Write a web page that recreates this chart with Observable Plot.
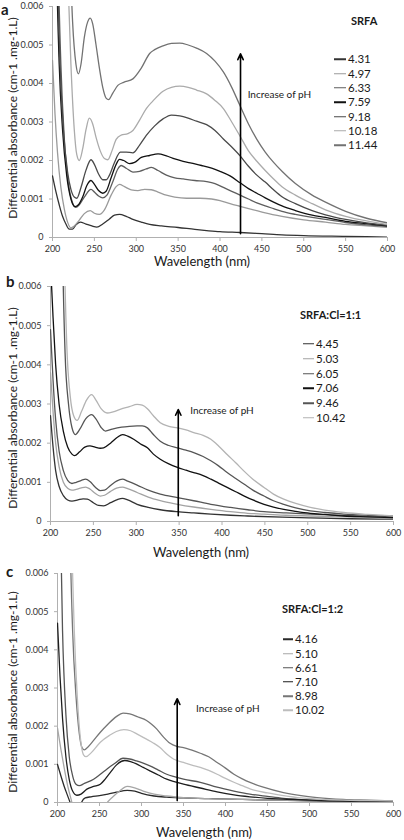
<!DOCTYPE html>
<html><head><meta charset="utf-8">
<script src="https://cdn.jsdelivr.net/npm/d3@7"></script>
<script src="https://cdn.jsdelivr.net/npm/@observablehq/plot@0.6"></script>
<style>
body{margin:0;background:#fff;font-family:Lato,"Open Sans",sans-serif;}
#wrap{position:relative;width:404px;height:840px;overflow:hidden;background:#fff;}
.panel{position:absolute;left:0;width:404px;}
.panel svg{display:block;}
.t{position:absolute;white-space:nowrap;color:#1a1a1a;line-height:1;}
.letter{font-weight:bold;font-size:15px;line-height:1.25;}
.ytitle{font-size:12px;transform:translate(-50%,-50%) rotate(-90deg);}
.xtitle{font-size:13px;transform:translate(-50%,-50%);}
.ltitle{font-weight:bold;font-size:11px;transform:translateY(-50%);}
.lrow{position:absolute;font-size:11.5px;transform:translateY(-50%);display:flex;align-items:center;line-height:1;color:#1a1a1a;}
.lrow i{display:inline-block;height:1.4px;margin-right:2px;}
</style>
</head><body>
<div id="wrap"></div>
<script>
// ---------- shared axis ticks ----------
const xTicks = [200, 250, 300, 350, 400, 450, 500, 550, 600];
const yTicks = [0, 1, 2, 3, 4, 5, 6];            // in units of 0.001
const yTickLabels = ["0", "0.001", "0.002", "0.003", "0.004", "0.005", "0.006"];
const xTitle = "Wavelength (nm)";
const yTitle = "Differential absorbance (cm-1 .mg-1.L)";
const arrowText = "Increase of pH";

// ---------- panel a : SRFA (values ×0.001) ----------
const aTitle = "SRFA";
const aPH = ["4.31", "4.97", "6.33", "7.59", "9.18", "10.18", "11.44"];
const aColors = ["#333333", "#9a9a9a", "#5e5e5e", "#111111", "#4a4a4a", "#ababab", "#727272"];
const a_431 = [[200,1.6],[204,1.2],[208,0.85],[212,0.55],[216,0.35],[220,0.22],[224,0.22],[228,0.33],[233,0.4],[240,0.35],[247,0.3],[253,0.27],[260,0.35],[268,0.48],[274,0.58],[280,0.6],[288,0.55],[296,0.47],[306,0.4],[316,0.34],[330,0.3],[350,0.26],[370,0.21],[384,0.18],[400,0.15],[424,0.13],[450,0.1],[474,0.07],[500,0.05],[550,0.03],[600,0.01]];
const a_497 = [[200,4.6],[203,3.2],[206,2.2],[210,1.3],[214,0.75],[218,0.4],[222,0.25],[226,0.3],[232,0.45],[238,0.62],[245,0.7],[250,0.63],[256,0.6],[262,0.72],[270,1.1],[276,1.32],[280,1.38],[286,1.32],[294,1.24],[302,1.22],[310,1.25],[318,1.24],[326,1.18],[336,1.1],[346,1.05],[360,1.02],[376,1.02],[390,1.0],[400,0.96],[412,0.88],[424,0.81],[440,0.72],[454,0.64],[474,0.55],[500,0.46],[526,0.4],[550,0.34],[575,0.3],[600,0.26]];
const a_633 = [[204,12],[207,7],[210,4.5],[214,2.6],[219,1.4],[224,0.9],[228,0.78],[232,0.85],[238,1.05],[246,1.25],[250,1.18],[255,1.08],[260,1.03],[265,1.1],[272,1.45],[278,1.78],[282,1.87],[288,1.8],[296,1.7],[304,1.72],[312,1.78],[318,1.82],[326,1.74],[336,1.62],[346,1.55],[356,1.52],[370,1.48],[384,1.45],[394,1.4],[404,1.3],[414,1.2],[424,1.1],[434,1.0],[444,0.9],[454,0.82],[464,0.75],[474,0.68],[490,0.6],[510,0.52],[526,0.47],[550,0.39],[575,0.33],[600,0.29]];
const a_759 = [[202,12],[205,7],[208,4.5],[212,2.8],[217,1.6],[222,1.0],[227,0.8],[231,0.85],[236,1.05],[241,1.35],[246,1.48],[250,1.38],[255,1.22],[260,1.15],[264,1.2],[270,1.55],[276,1.9],[280,2.03],[285,2.0],[292,1.92],[298,1.95],[306,2.08],[316,2.13],[326,2.17],[336,2.12],[346,2.04],[356,1.98],[366,1.93],[378,1.87],[390,1.8],[400,1.72],[412,1.6],[424,1.42],[434,1.27],[444,1.15],[454,1.03],[464,0.92],[474,0.82],[490,0.7],[510,0.58],[526,0.52],[550,0.42],[575,0.36],[600,0.3]];
const a_918 = [[203,12],[206,7],[209,4.5],[213,2.8],[218,1.7],[222,1.25],[226,1.05],[229,1.02],[234,1.3],[240,1.75],[246,2.02],[250,1.9],[255,1.65],[260,1.5],[264,1.5],[268,1.62],[274,1.95],[281,2.22],[288,2.22],[296,2.2],[304,2.4],[312,2.65],[322,2.9],[332,3.08],[342,3.18],[352,3.16],[362,3.1],[372,3.02],[384,2.93],[394,2.78],[404,2.56],[414,2.35],[424,2.12],[434,1.85],[444,1.62],[454,1.44],[464,1.24],[474,1.06],[490,0.88],[510,0.7],[526,0.59],[550,0.47],[575,0.38],[600,0.32]];
const a_1018 = [[212,12],[218,7],[222,4.5],[226,2.8],[229,2.15],[232,2.0],[236,2.3],[240,2.8],[244,3.1],[248,2.95],[252,2.6],[257,2.25],[262,2.05],[266,2.02],[271,2.25],[276,2.55],[282,2.66],[290,2.7],[296,2.78],[304,3.05],[312,3.35],[320,3.55],[332,3.8],[342,3.9],[352,3.93],[362,3.9],[372,3.83],[384,3.73],[394,3.56],[404,3.35],[414,3.0],[424,2.63],[434,2.25],[444,1.98],[454,1.74],[464,1.52],[474,1.32],[490,1.1],[510,0.88],[526,0.72],[550,0.55],[575,0.43],[600,0.34]];
const a_1144 = [[215,12],[220,8],[224,5.6],[228,4.5],[231,4.25],[234,4.5],[238,5.2],[242,5.6],[245,5.7],[248,5.55],[252,5.0],[256,4.4],[260,3.9],[264,3.62],[267,3.58],[272,3.75],[278,3.95],[285,4.03],[296,4.12],[306,4.4],[316,4.78],[322,4.88],[332,4.98],[342,5.04],[352,5.05],[362,5.0],[372,4.92],[384,4.78],[394,4.58],[404,4.3],[414,3.9],[424,3.42],[434,2.95],[444,2.55],[454,2.22],[464,1.95],[474,1.72],[490,1.4],[510,1.1],[526,0.92],[550,0.68],[575,0.5],[600,0.38]];
const aArrow = [{x: 424.5, y1: 0.1, y2: 4.77}];
const aLabel = [{x: 433, y: 3.71}];

// ---------- panel b : SRFA:Cl=1:1 ----------
const bTitle = "SRFA:Cl=1:1";
const bPH = ["4.45", "5.03", "6.05", "7.06", "9.46", "10.42"];
const bColors = ["#333333", "#a3a3a3", "#555555", "#111111", "#555555", "#b3b3b3"];
const b_445 = [[200,2.7],[203,1.9],[206,1.3],[210,0.9],[215,0.66],[220,0.55],[225,0.52],[232,0.55],[238,0.58],[243,0.57],[250,0.48],[256,0.41],[262,0.4],[270,0.48],[278,0.56],[284,0.59],[290,0.55],[301,0.44],[314,0.36],[328,0.3],[348,0.25],[367,0.22],[387,0.19],[410,0.16],[430,0.14],[470,0.11],[503,0.09],[550,0.07],[600,0.06]];
const b_503 = [[200,3.8],[203,2.8],[206,2.0],[210,1.4],[215,1.0],[220,0.85],[225,0.8],[230,0.82],[236,0.86],[241,0.88],[246,0.83],[252,0.72],[258,0.65],[263,0.67],[270,0.77],[277,0.85],[284,0.88],[290,0.84],[301,0.74],[314,0.62],[328,0.53],[348,0.44],[367,0.37],[387,0.31],[410,0.25],[430,0.21],[449,0.19],[475,0.16],[503,0.14],[550,0.12],[600,0.1]];
const b_605 = [[200,4.9],[203,3.6],[206,2.6],[210,1.8],[215,1.3],[220,1.05],[225,0.97],[230,1.0],[236,1.05],[241,1.08],[246,1.02],[252,0.88],[258,0.79],[263,0.8],[270,0.92],[277,1.03],[284,1.08],[290,1.03],[301,0.93],[314,0.8],[328,0.7],[348,0.61],[367,0.53],[387,0.44],[410,0.36],[430,0.3],[449,0.25],[475,0.22],[503,0.19],[550,0.15],[600,0.12]];
const b_706 = [[200,6.6],[203,5.2],[206,4.0],[210,3.0],[215,2.3],[220,1.9],[225,1.72],[228,1.68],[234,1.78],[240,1.9],[246,1.93],[252,1.9],[258,1.87],[262,1.88],[270,2.0],[278,2.15],[284,2.22],[290,2.18],[297,2.1],[305,1.98],[313,1.88],[320,1.72],[328,1.59],[338,1.47],[348,1.38],[358,1.31],[367,1.25],[378,1.17],[387,1.08],[396,0.98],[406,0.87],[416,0.76],[426,0.65],[436,0.55],[449,0.44],[460,0.37],[472,0.31],[486,0.26],[503,0.21],[520,0.18],[542,0.14],[570,0.12],[600,0.1]];
const b_946 = [[211,12],[214,7],[217,4.3],[221,3.0],[225,2.4],[229,2.22],[234,2.35],[241,2.62],[248,2.73],[253,2.62],[259,2.4],[264,2.31],[272,2.36],[283,2.41],[292,2.43],[301,2.44],[307,2.44],[313,2.39],[320,2.22],[328,2.05],[338,1.94],[348,1.88],[358,1.82],[367,1.76],[378,1.66],[387,1.55],[396,1.42],[406,1.25],[416,1.1],[426,0.95],[436,0.8],[449,0.65],[460,0.53],[472,0.44],[486,0.35],[503,0.27],[520,0.23],[542,0.19],[570,0.16],[600,0.14]];
const b_1042 = [[213,12],[216,7],[219,4.5],[223,3.2],[227,2.7],[231,2.58],[236,2.8],[242,3.1],[248,3.24],[253,3.1],[259,2.88],[266,2.77],[273,2.8],[282,2.87],[292,2.93],[301,2.99],[307,2.97],[313,2.88],[320,2.7],[328,2.52],[338,2.43],[348,2.39],[358,2.34],[367,2.27],[378,2.2],[387,2.1],[396,1.93],[406,1.71],[416,1.5],[426,1.28],[436,1.08],[449,0.87],[460,0.7],[472,0.57],[486,0.46],[503,0.36],[520,0.29],[542,0.23],[570,0.18],[600,0.14]];
const bArrow = [{x: 349, y1: 0.15, y2: 2.86}];
const bLabel = [{x: 363, y: 2.82}];

// ---------- panel c : SRFA:Cl=1:2 ----------
const cTitle = "SRFA:Cl=1:2";
const cPH = ["4.16", "5.10", "6.61", "7.10", "8.98", "10.02"];
const cColors = ["#2a2a2a", "#a6a6a6", "#555555", "#1e1e1e", "#767676", "#bdbdbd"];
const c_416 = [[200,1.0],[204,0.7],[208,0.42],[212,0.18],[215,0.0],[218,-0.2],[226,-0.3],[229,0.02],[233,0.12],[240,0.15],[250,0.18],[260,0.22],[270,0.27],[283,0.32],[292,0.3],[300,0.24],[315,0.17],[330,0.14],[350,0.12],[380,0.1],[420,0.08],[460,0.06],[500,0.04],[550,0.02],[600,0.01]];
const c_510 = [[200,1.95],[204,1.4],[208,0.9],[212,0.45],[216,0.1],[220,-0.2],[240,-0.4],[256,-0.1],[260,0.02],[266,0.15],[274,0.3],[283,0.42],[292,0.38],[302,0.3],[315,0.22],[330,0.17],[350,0.13],[380,0.1],[420,0.08],[460,0.06],[500,0.05],[550,0.03],[600,0.02]];
const c_661 = [[201,12],[203,8],[206,4.5],[210,2.3],[214,1.2],[218,0.7],[222,0.48],[226,0.44],[232,0.5],[243,0.61],[251,0.74],[259,0.88],[268,1.02],[278,1.16],[286,1.14],[294,1.09],[302,1.03],[310,0.96],[320,0.85],[330,0.74],[340,0.67],[350,0.61],[370,0.53],[390,0.4],[410,0.3],[429,0.22],[450,0.16],[469,0.11],[500,0.07],[550,0.05],[600,0.04]];
const c_710 = [[200,4.7],[203,3.3],[206,2.2],[210,1.2],[214,0.6],[218,0.3],[223,0.19],[228,0.22],[235,0.35],[243,0.42],[251,0.48],[257,0.62],[263,0.79],[270,0.98],[280,1.1],[287,1.07],[294,1.01],[302,0.92],[310,0.83],[320,0.72],[330,0.61],[340,0.54],[350,0.48],[370,0.38],[390,0.28],[410,0.2],[429,0.15],[450,0.11],[469,0.09],[500,0.06],[550,0.03],[600,0.02]];
const c_898 = [[212,12],[215,7],[218,4.5],[222,2.8],[226,1.8],[229,1.45],[232,1.38],[236,1.45],[242,1.6],[251,1.84],[260,2.05],[270,2.25],[278,2.34],[286,2.32],[296,2.24],[306,2.15],[312,2.05],[318,1.93],[326,1.72],[334,1.55],[342,1.47],[350,1.44],[360,1.37],[370,1.29],[380,1.2],[390,1.05],[400,0.9],[410,0.74],[420,0.62],[430,0.52],[445,0.4],[469,0.26],[490,0.18],[509,0.13],[540,0.08],[570,0.06],[600,0.04]];
const c_1002 = [[214,12],[217,7],[220,4.5],[224,2.6],[228,1.55],[231,1.25],[234,1.2],[240,1.3],[251,1.58],[262,1.76],[270,1.86],[279,1.91],[287,1.88],[296,1.78],[306,1.66],[314,1.56],[322,1.44],[330,1.27],[338,1.14],[350,1.05],[360,0.98],[370,0.92],[380,0.84],[390,0.74],[400,0.63],[410,0.53],[420,0.44],[430,0.35],[450,0.25],[469,0.18],[490,0.12],[509,0.09],[540,0.06],[570,0.05],[600,0.04]];
const cArrow = [{x: 342.5, y1: 0.05, y2: 2.72}];
const cLabel = [{x: 365, y: 2.45}];

// ---------- layout of the three panels ----------
const panels = [
  {letter:"a", top:0, height:272, mt:6, mb:35, ml:52, mr:17,
   title:aTitle, ph:aPH, colors:aColors, series:[a_431,a_497,a_633,a_759,a_918,a_1018,a_1144],
   arrow:aArrow, label:aLabel,
   letterPos:[1,0], yTitlePos:[13,118], xTitlePos:[202,261],
   legTitle:[351,20], legRow0:59.3, legStep:14.3, legLine:[334,12]},
  {letter:"b", top:272, height:286, mt:14, mb:37, ml:50, mr:11,
   title:bTitle, ph:bPH, colors:bColors, series:[b_445,b_503,b_605,b_706,b_946,b_1042],
   arrow:bArrow, label:bLabel,
   letterPos:[6,0], yTitlePos:[13,136], xTitlePos:[201,280],
   legTitle:[300,42], legRow0:72, legStep:14.8, legLine:[303,11]},
  {letter:"c", top:558, height:282, mt:15, mb:38, ml:57, mr:11,
   title:cTitle, ph:cPH, colors:cColors, series:[c_416,c_510,c_661,c_710,c_898,c_1002],
   arrow:cArrow, label:cLabel,
   letterPos:[6,4], yTitlePos:[13,134], xTitlePos:[204,274],
   legTitle:[282,49.5], legRow0:81.3, legStep:14.2, legLine:[283,10]}
];

const wrap = document.getElementById("wrap");
const fmtY = (d) => yTickLabels[yTicks.indexOf(d)];

for (const p of panels) {
  const rows = [];
  p.series.forEach((s, k) => s.forEach(([w, v]) => rows.push({w, v, pH: p.ph[k]})));

  const chart = Plot.plot({
    width: 404, height: p.height,
    marginTop: p.mt, marginBottom: p.mb, marginLeft: p.ml, marginRight: p.mr,
    style: {fontFamily: "Lato, 'Open Sans', sans-serif", fontSize: "9px", color: "#333", background: "transparent", overflow: "visible"},
    x: {domain: [200, 600], label: null},
    y: {domain: [0, 6], label: null},
    color: {type: "ordinal", domain: p.ph, range: p.colors},
    marks: [
      Plot.axisX({ticks: xTicks, tickSize: 4, tickPadding: 4, stroke: "#b0b0b0", label: null}),
      Plot.axisY({ticks: yTicks, tickSize: 3, tickPadding: 6, stroke: "#b0b0b0", tickFormat: fmtY, label: null}),
      Plot.ruleX([200], {stroke: "#b0b0b0"}),
      Plot.ruleY([0], {stroke: "#b0b0b0"}),
      Plot.line(rows, {x: "w", y: "v", z: "pH", stroke: "pH", strokeWidth: 1.3, curve: "monotone-x", clip: true}),
      Plot.arrow(p.arrow, {x1: "x", x2: "x", y1: "y1", y2: "y2", stroke: "#000", strokeWidth: 1.6, headLength: 6, headAngle: 50}),
      Plot.text(p.label, {x: "x", y: "y", text: () => arrowText, textAnchor: "start", fontSize: 10, fill: "#1a1a1a"})
    ]
  });

  const div = document.createElement("div");
  div.className = "panel";
  div.style.top = p.top + "px";
  div.style.height = p.height + "px";
  div.appendChild(chart);

  const add = (cls, text, x, y) => {
    const t = document.createElement("div");
    t.className = "t " + cls;
    t.textContent = text;
    t.style.left = x + "px";
    t.style.top = y + "px";
    div.appendChild(t);
    return t;
  };
  add("letter", p.letter, p.letterPos[0], p.letterPos[1]);
  add("ytitle", yTitle, p.yTitlePos[0], p.yTitlePos[1]);
  add("xtitle", xTitle, p.xTitlePos[0], p.xTitlePos[1]);
  add("ltitle", p.title, p.legTitle[0], p.legTitle[1]);

  p.ph.forEach((ph, k) => {
    const r = document.createElement("div");
    r.className = "lrow";
    r.style.left = p.legLine[0] + "px";
    r.style.top = (p.legRow0 + k * p.legStep) + "px";
    const sw = document.createElement("i");
    sw.style.width = p.legLine[1] + "px";
    sw.style.background = p.colors[k];
    r.appendChild(sw);
    r.appendChild(document.createTextNode(ph));
    div.appendChild(r);
  });

  wrap.appendChild(div);
}
</script>
</body></html>
